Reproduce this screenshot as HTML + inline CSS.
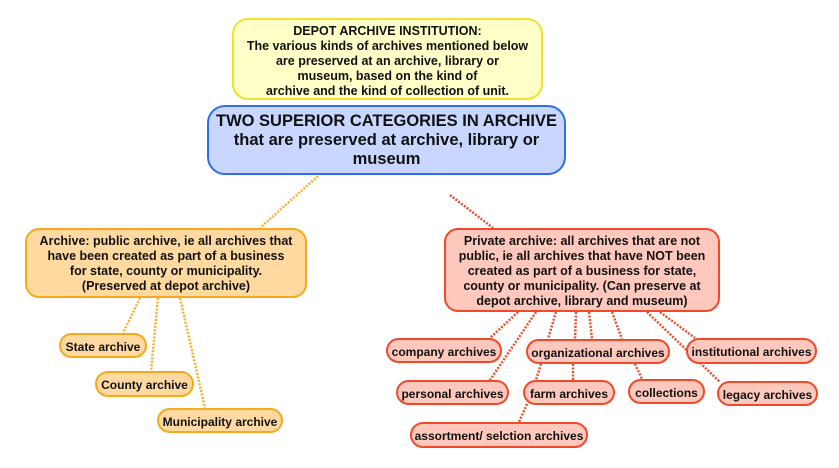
<!DOCTYPE html>
<html><head><style>
body{margin:0;width:839px;height:468px;background:#fff;position:relative;overflow:hidden;font-family:"Liberation Sans",Arial,sans-serif;font-weight:bold;color:#111}
.b{position:absolute;box-sizing:border-box;display:flex;align-items:center;justify-content:center;text-align:center;border-width:2px;border-style:solid}
.y{background:#ffffc8;border-color:#f0e030;border-radius:16px;font-size:12.5px;line-height:15px;padding-top:4px}
.bl{background:#c9d6ff;border-color:#2f6ee8;border-radius:18px;font-size:16.5px;line-height:19px}
.o{background:#ffd9a0;border-color:#f5aa1e;border-radius:14px;font-size:12.5px;line-height:15px;padding-top:2px}
.r{background:#ffc8bd;border-color:#f04a2a;border-radius:14px;font-size:12.5px;line-height:15px;padding-top:2px}
.s{border-radius:13px;font-size:12px;padding-top:3px}
svg{position:absolute;left:0;top:0}
</style></head><body>
<svg width="839" height="468" fill="none" stroke-width="2.5" stroke-dasharray="2 1.5">
<g stroke="#f5b030">
<line x1="318" y1="176" x2="260" y2="228"/>
<line x1="140" y1="298" x2="123" y2="333"/>
<line x1="158" y1="298" x2="151" y2="371"/>
<line x1="180" y1="298" x2="205" y2="408"/>
</g>
<g stroke="#e8502e">
<line x1="450" y1="195" x2="493" y2="228"/>
<line x1="518" y1="312" x2="490" y2="338"/>
<line x1="536" y1="312" x2="490" y2="380"/>
<line x1="556" y1="312" x2="548" y2="339"/>
<line x1="576" y1="312" x2="575" y2="339"/>
<line x1="589" y1="312" x2="592" y2="339"/>
<line x1="612" y1="312" x2="622" y2="339"/>
<line x1="660" y1="312" x2="695" y2="338"/>
<line x1="647" y1="312" x2="720" y2="382"/>
<line x1="541" y1="364" x2="536" y2="380"/>
<line x1="573" y1="364" x2="573" y2="380"/>
<line x1="635" y1="364" x2="642" y2="379"/>
<line x1="527" y1="404" x2="519" y2="422"/>
</g>
</svg>
<div class="b y" style="left:232px;top:18px;width:311px;height:82px">DEPOT ARCHIVE INSTITUTION:<br>The various kinds of archives mentioned below<br>are preserved at an archive, library or<br>museum, based on the kind of<br>archive and the kind of collection of unit.</div>
<div class="b bl" style="left:207px;top:105px;width:359px;height:70px">TWO SUPERIOR CATEGORIES IN ARCHIVE<br>that are preserved at archive, library or<br>museum</div>
<div class="b o" style="left:25px;top:228px;width:282px;height:70px">Archive: public archive, ie all archives that<br>have been created as part of a business<br>for state, county or municipality.<br>(Preserved at depot archive)</div>
<div class="b r" style="left:444px;top:228px;width:276px;height:84px">Private archive: all archives that are not<br>public, ie all archives that have NOT been<br>created as part of a business for state,<br>county or municipality. (Can preserve at<br>depot archive, library and museum)</div>
<div class="b o s" style="left:59px;top:333px;width:88px;height:25px">State archive</div>
<div class="b o s" style="left:95px;top:371px;width:99px;height:26px">County archive</div>
<div class="b o s" style="left:157px;top:408px;width:126px;height:25px">Municipality archive</div>
<div class="b r s" style="left:386px;top:338px;width:116px;height:25px">company archives</div>
<div class="b r s" style="left:526px;top:339px;width:144px;height:25px">organizational archives</div>
<div class="b r s" style="left:686px;top:338px;width:131px;height:26px">institutional archives</div>
<div class="b r s" style="left:396px;top:380px;width:113px;height:25px">personal archives</div>
<div class="b r s" style="left:523px;top:380px;width:92px;height:25px">farm archives</div>
<div class="b r s" style="left:628px;top:379px;width:77px;height:25px">collections</div>
<div class="b r s" style="left:717px;top:381px;width:101px;height:25px">legacy archives</div>
<div class="b r s" style="left:410px;top:422px;width:178px;height:26px">assortment/ selction archives</div>
</body></html>
